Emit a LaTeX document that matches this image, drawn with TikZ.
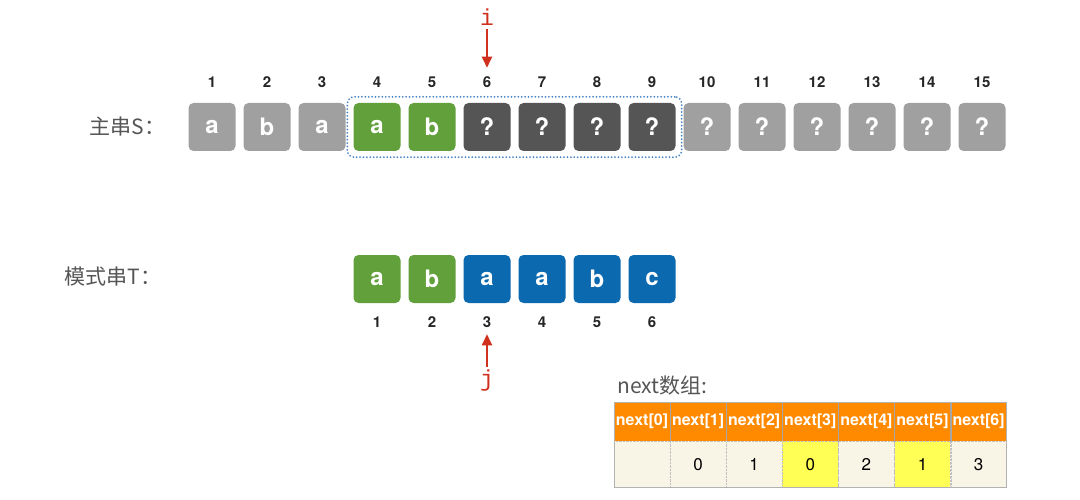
\documentclass[tikz,border=0pt]{standalone}
\usepackage{fontspec}
\setmainfont{TeX Gyre Heros}
\newfontfamily\cjk{Noto Sans CJK SC}
\newfontfamily\ptrfont{Liberation Mono}
\usepackage{xcolor}
\usepackage{tikz}
\usetikzlibrary{arrows.meta,positioning,fit}
\definecolor{idlecolor}{HTML}{A0A0A0}
\definecolor{matchcolor}{HTML}{62A03C}
\definecolor{pendcolor}{HTML}{555555}
\definecolor{patcolor}{HTML}{0B69B0}
\definecolor{windowcolor}{HTML}{4A86C5}
\definecolor{ptrcolor}{HTML}{D0301E}
\definecolor{headcolor}{HTML}{FF8A00}
\definecolor{cellcolor}{HTML}{F8F4E6}
\definecolor{hitcolor}{HTML}{FFFF55}
\definecolor{titlecolor}{HTML}{555555}

\begin{document}
\begin{tikzpicture}[
    x=1pt, y=-1pt,
    node distance=7.6pt,
    chr/.style={rounded corners=5pt, minimum width=47pt, minimum height=48pt, inner sep=0pt,
                text=white, font=\fontsize{24}{24}\selectfont\bfseries},
    idle/.style={chr, fill=idlecolor},
    match/.style={chr, fill=matchcolor},
    pend/.style={chr, fill=pendcolor},
    pat/.style={chr, fill=patcolor},
    num/.style={font=\fontsize{15}{15}\selectfont\bfseries, text=black!85},
    ptr/.style={-{Triangle[length=11pt, width=10pt]}, line width=2pt, ptrcolor},
    ptrlabel/.style={font=\ptrfont\fontsize{23}{23}\selectfont, text=ptrcolor},
    title/.style={font=\cjk\fontsize{21}{21}\selectfont, text=titlecolor},
    head/.style={fill=headcolor, draw=gray!70, minimum width=55.7pt, minimum height=39pt, inner sep=0pt,
                 text=white, font=\fontsize{16}{16}\selectfont\bfseries},
    cell/.style={fill=cellcolor, draw=gray!50, densely dotted, minimum width=55.7pt, minimum height=46pt,
                 inner sep=0pt, font=\fontsize{17}{17}\selectfont},
    up/.style={label={[num, label distance=12pt]above:#1}},
    down/.style={label={[num, label distance=10pt]below:#1}}
]
\useasboundingbox (0,0) rectangle (1080,500);

% Main string S
\node[title, anchor=west] (slbl) at (86,127) {主串S：};
\node[idle,  up=1] (s1) at (212,127) {a};
\node[idle,  up=2, right=of s1]  (s2)  {b};
\node[idle,  up=3, right=of s2]  (s3)  {a};
\node[match, up=4, right=of s3]  (s4)  {a};
\node[match, up=5, right=of s4]  (s5)  {b};
\node[pend,  label={[num, label distance=12pt, name=n6]above:6}, right=of s5] (s6) {?};
\node[pend,  up=7, right=of s6]  (s7)  {?};
\node[pend,  up=8, right=of s7]  (s8)  {?};
\node[pend,  up=9, right=of s8]  (s9)  {?};
\node[idle,  up=10, right=of s9]  (s10) {?};
\node[idle,  up=11, right=of s10] (s11) {?};
\node[idle,  up=12, right=of s11] (s12) {?};
\node[idle,  up=13, right=of s12] (s13) {?};
\node[idle,  up=14, right=of s13] (s14) {?};
\node[idle,  up=15, right=of s14] (s15) {?};

% Window around the compared part
\node[fit=(s4)(s9), inner sep=6pt, draw=windowcolor, rounded corners=7pt, line width=2pt,
      dash pattern=on 0pt off 3.4pt, line cap=round] (win) {};

% Pointer i
\node[ptrlabel] (i) at (487,17) {i};
\draw[ptr, shorten >=5pt] (i) -- (n6);

% Pattern string T
\node[title, anchor=west] (tlbl) at (61,277) {模式串T：};
\node[match, down=1] (t1) at (377,279) {a};
\node[match, down=2, right=of t1] (t2) {b};
\node[pat, label={[num, label distance=10pt, name=m3]below:3}, right=of t2] (t3) {a};
\node[pat,   down=4, right=of t3] (t4) {a};
\node[pat,   down=5, right=of t4] (t5) {b};
\node[pat,   down=6, right=of t5] (t6) {c};

% Pointer j
\node[ptrlabel] (j) at (487,381) {j};
\draw[ptr, shorten >=3pt] (j) -- (m3);

% next array
\node[head] (h0) at (642,421.5) {next[0]};
\node[head, right=0pt of h0] (h1) {next[1]};
\node[head, right=0pt of h1] (h2) {next[2]};
\node[head, right=0pt of h2] (h3) {next[3]};
\node[head, right=0pt of h3] (h4) {next[4]};
\node[head, right=0pt of h4] (h5) {next[5]};
\node[head, right=0pt of h5] (h6) {next[6]};
\node[cell, below=0pt of h0] (b0) {};
\node[cell, below=0pt of h1] (b1) {0};
\node[cell, below=0pt of h2] (b2) {1};
\node[cell, fill=hitcolor, below=0pt of h3] (b3) {0};
\node[cell, below=0pt of h4] (b4) {2};
\node[cell, fill=hitcolor, below=0pt of h5] (b5) {1};
\node[cell, below=0pt of h6] (b6) {3};
\draw[gray!60] (h0.north west) rectangle (b6.south east);
\node[title, anchor=south west] (nlbl) at ([yshift=3pt]h0.north west) {next数组:};

\end{tikzpicture}
\end{document}
